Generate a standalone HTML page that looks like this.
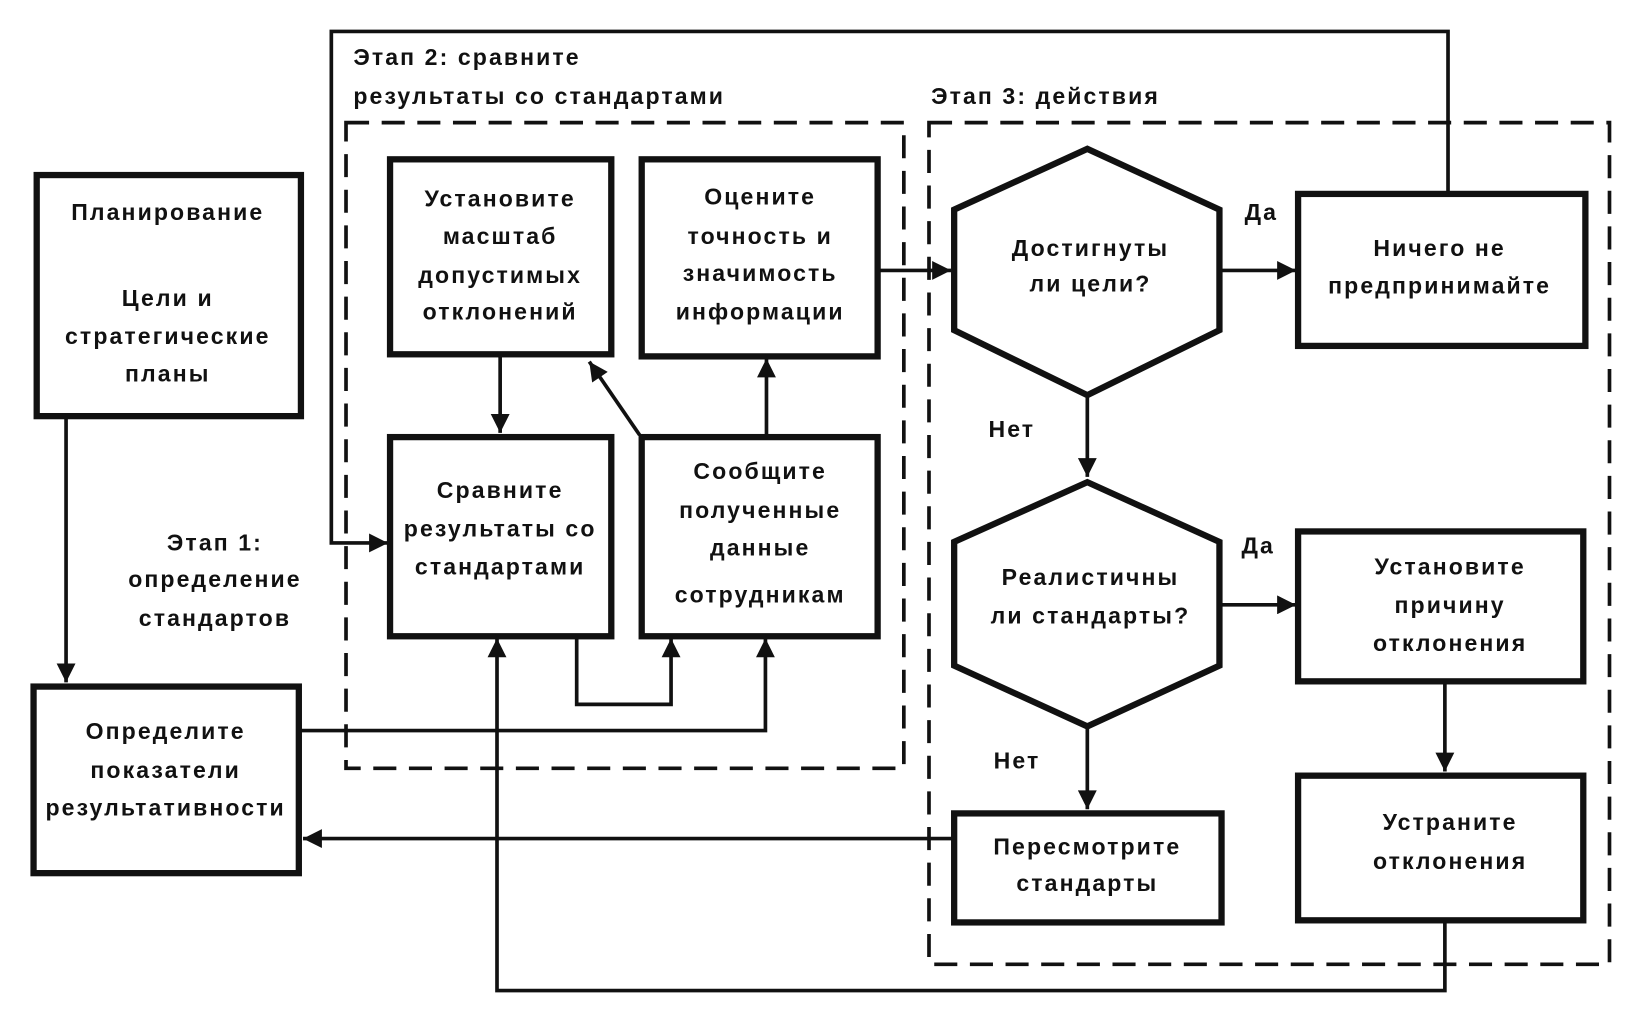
<!DOCTYPE html>
<html><head><meta charset="utf-8"><style>
html,body{margin:0;padding:0;background:#fff;}
svg{display:block;}
text{font-family:"Liberation Sans",sans-serif;font-weight:bold;font-size:22px;fill:#111;text-anchor:middle;letter-spacing:2px;}
.l{text-anchor:start;}
.b{fill:none;stroke:#111;stroke-width:6;}
.ln{fill:none;stroke:#111;stroke-width:3.5;}
.d{fill:none;stroke:#111;stroke-width:3.5;stroke-dasharray:22 12;}
</style></head><body>
<svg width="1642" height="1022" viewBox="0 0 1566 975" preserveAspectRatio="none" xmlns="http://www.w3.org/2000/svg">
<defs>
<marker id="m" viewBox="0 0 10 10" refX="10" refY="5" markerWidth="30" markerHeight="18" markerUnits="userSpaceOnUse" orient="auto"><path d="M0,0 L10,5 L0,10z" fill="#111"/></marker></defs>

<rect class="d" x="330" y="117" width="532" height="616"/>
<rect class="d" x="886" y="117" width="649" height="803"/>

<polyline class="ln" points="63,397 63,651" marker-end="url(#m)"/>
<polyline class="ln" points="1381,183 1381,30 316,30 316,518 370,518" marker-end="url(#m)"/>
<polyline class="ln" points="1378,878 1378,945 474,945 474,609" marker-end="url(#m)"/>
<polyline class="ln" points="477,338 477,413" marker-end="url(#m)"/>
<polyline class="ln" points="610,415 562,345" marker-end="url(#m)"/>
<polyline class="ln" points="731,415 731,342" marker-end="url(#m)"/>
<polyline class="ln" points="550,607 550,672 640,672 640,609" marker-end="url(#m)"/>
<polyline class="ln" points="285,697 730,697 730,609" marker-end="url(#m)"/>
<polyline class="ln" points="837,258 907,258" marker-end="url(#m)"/>
<polyline class="ln" points="1163,258 1236,258" marker-end="url(#m)"/>
<polyline class="ln" points="1037,377 1037,455" marker-end="url(#m)"/>
<polyline class="ln" points="1163,577 1236,577" marker-end="url(#m)"/>
<polyline class="ln" points="1378,650 1378,736" marker-end="url(#m)"/>
<polyline class="ln" points="1037,693 1037,772" marker-end="url(#m)"/>
<polyline class="ln" points="910,800 289,800" marker-end="url(#m)"/>

<rect class="b" x="35" y="167" width="252" height="230" fill="#fff"/>
<rect class="b" x="32" y="655" width="253" height="178" fill="#fff"/>
<rect class="b" x="372" y="152" width="211" height="186" fill="#fff"/>
<rect class="b" x="612" y="152" width="225" height="188" fill="#fff"/>
<rect class="b" x="372" y="417" width="211" height="190" fill="#fff"/>
<rect class="b" x="612" y="417" width="225" height="190" fill="#fff"/>
<polygon class="b" fill="#fff" points="910,200 1037,142 1163,200 1163,315 1037,377 910,315"/>
<polygon class="b" fill="#fff" points="910,517 1037,460 1163,517 1163,635 1037,693 910,635"/>
<rect class="b" x="1238" y="185" width="274" height="145" fill="#fff"/>
<rect class="b" x="1238" y="507" width="272" height="143" fill="#fff"/>
<rect class="b" x="1238" y="740" width="272" height="138" fill="#fff"/>
<rect class="b" x="910" y="776" width="255" height="104" fill="#fff"/>

<text class="l" x="337" y="62">Этап 2: сравните</text>
<text class="l" x="337" y="99">результаты со стандартами</text>
<text class="l" x="888" y="99">Этап 3: действия</text>

<text x="160" y="210">Планирование</text>
<text x="160" y="292">Цели и</text>
<text x="160" y="328">стратегические</text>
<text x="160" y="364">планы</text>

<text x="205" y="525">Этап 1:</text>
<text x="205" y="560">определение</text>
<text x="205" y="597">стандартов</text>

<text x="158" y="705">Определите</text>
<text x="158" y="742">показатели</text>
<text x="158" y="778">результативности</text>

<text x="477" y="197">Установите</text>
<text x="477" y="233">масштаб</text>
<text x="477" y="270">допустимых</text>
<text x="477" y="305">отклонений</text>

<text x="725" y="195">Оцените</text>
<text x="725" y="233">точность и</text>
<text x="725" y="268">значимость</text>
<text x="725" y="305">информации</text>

<text x="477" y="475">Сравните</text>
<text x="477" y="512">результаты со</text>
<text x="477" y="548">стандартами</text>

<text x="725" y="457">Сообщите</text>
<text x="725" y="494">полученные</text>
<text x="725" y="530">данные</text>
<text x="725" y="575">сотрудникам</text>

<text x="1040" y="244">Достигнуты</text>
<text x="1040" y="278">ли цели?</text>
<text x="1203" y="210">Да</text>
<text x="1373" y="244">Ничего не</text>
<text x="1373" y="280">предпринимайте</text>
<text x="965" y="417">Нет</text>

<text x="1040" y="558">Реалистичны</text>
<text x="1040" y="595">ли стандарты?</text>
<text x="1200" y="528">Да</text>
<text x="1383" y="548">Установите</text>
<text x="1383" y="585">причину</text>
<text x="1383" y="621">отклонения</text>
<text x="970" y="733">Нет</text>
<text x="1383" y="792">Устраните</text>
<text x="1383" y="829">отклонения</text>
<text x="1037" y="815">Пересмотрите</text>
<text x="1037" y="850">стандарты</text>
</svg>
</body></html>
